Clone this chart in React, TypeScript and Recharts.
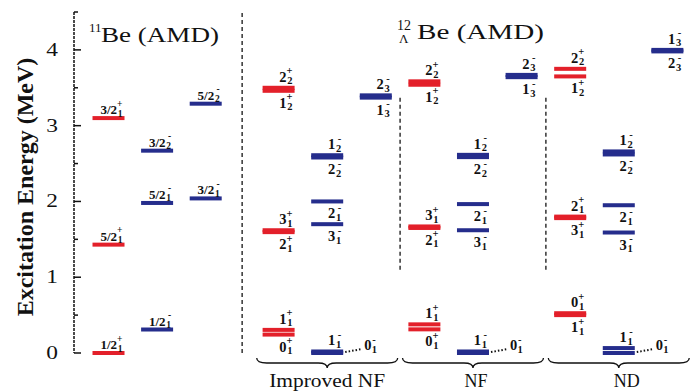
import React from "react";
import { ComposedChart, XAxis, YAxis, Scatter, ReferenceLine, Customized } from "recharts";

const FONT = "'Liberation Serif', 'Times New Roman', Times, serif";
const RED = "#e3202a";
const BLUE = "#252d8c";
const INK = "#111";

// ---- y axis ----
const yTicks = [0, 0.5, 1, 1.5, 2, 2.5, 3, 3.5, 4, 4.5];

// ---- 11Be (AMD) levels ----
const be11Spin = ["1/2", "5/2", "3/2", "1/2", "5/2", "3/2", "3/2", "5/2"];
const be11Index = ["1", "1", "1", "1", "1", "2", "1", "2"];
const be11Parity = ["+", "+", "+", "-", "-", "-", "-", "-"];
const be11Energy = [0.0, 1.43, 3.1, 0.31, 1.98, 2.67, 2.04, 3.29];
const be11Column = [0, 0, 0, 1, 1, 1, 2, 2];

// ---- 12ΛBe (AMD) states: J, index, parity, column ----
const lbJ = ["0", "1", "2", "3", "1", "2", "0", "1", "2", "3", "1", "2", "1", "2"];
const lbIndex = ["1", "1", "1", "1", "2", "2", "1", "1", "1", "1", "2", "2", "3", "3"];
const lbParity = ["+", "+", "+", "+", "+", "+", "-", "-", "-", "-", "-", "-", "-", "-"];
const lbColumn = [0, 0, 0, 0, 0, 0, 1, 1, 1, 1, 1, 1, 2, 2];

const modelNames = ["Improved NF", "NF", "ND"];
const improvedNFEnergy = [0.243, 0.305, 1.595, 1.62, 3.46, 3.5, 0.0, 0.02, 2.0, 1.7, 2.61, 2.58, 3.37, 3.4];
const nfEnergy = [0.312, 0.378, 1.65, 1.67, 3.54, 3.585, 0.0, 0.02, 1.965, 1.62, 2.615, 2.585, 3.64, 3.67];
const ndEnergy = [0.525, 0.5, 1.8, 1.78, 3.65, 3.75, 0.0, 0.065, 1.95, 1.59, 2.66, 2.62, 4.0, 3.98];
const modelEnergies = [improvedNFEnergy, nfEnergy, ndEnergy];

// ---- layout (column positions on the hidden x axis) ----
const BE11_X = [0, 1, 2];
const MODEL_X = [
  [3.5, 4.5, 5.5],
  [6.5, 7.5, 8.5],
  [9.5, 10.5, 11.5],
];
const PAIRS = [[0, 1], [2, 3], [4, 5], [6, 7], [10, 11], [12, 13]];
const DOTTED_STATE = 6; // 0_1^- label drawn to the right with a dotted line
const X_DOMAIN: [number, number] = [-0.71, 11.945];
const BRACE_PAD = 0.45;
const GROUP_LABEL_DX = [0, 3, 8];
const GROUP_LABEL_LEN = [116, 0, 0];
const HALF = 16;

type Pt = { x: number; y: number; base: string; sub: string; sup: string; side: string; kind: string };

function sideFor(i: number, e: number[]): string {
  if (i === DOTTED_STATE) return "right";
  const pair = PAIRS.find((p) => p.includes(i));
  if (!pair) return "below";
  const j = pair[0] === i ? pair[1] : pair[0];
  return e[i] >= e[j] ? "above" : "below";
}

const be11Points: Pt[] = be11Energy.map((y, i) => ({
  x: BE11_X[be11Column[i]],
  y,
  base: be11Spin[i],
  sub: be11Index[i],
  sup: be11Parity[i],
  side: "above",
  kind: "be11",
}));

const lbPoints: Pt[] = modelEnergies.flatMap((e, m) =>
  e.map((y, i) => ({
    x: MODEL_X[m][lbColumn[i]],
    y,
    base: lbJ[i],
    sub: lbIndex[i],
    sup: lbParity[i],
    side: sideFor(i, e),
    kind: "lb",
  }))
);

const LevelShape = (props: any) => {
  const { cx, cy, payload } = props;
  if (cx == null || cy == null) return null;
  const p: Pt = payload;
  const color = p.sup === "+" ? RED : BLUE;
  const left = cx - HALF;
  const right = cx + HALF;
  const small = p.kind === "be11";
  const fs = small ? 13 : 14.5;
  const sfs = small ? 9.5 : 10.5;
  const scriptW = small ? 5.5 : 6;
  let label: React.ReactNode = null;
  if (p.side === "right") {
    const lx = right + 21;
    const by = cy - 3;
    label = (
      <g>
        <line x1={right + 2} y1={cy - 1} x2={right + 19} y2={cy - 4} stroke={INK} strokeWidth={2} strokeDasharray="1.5 2" />
        <text x={lx} y={by} fontSize={fs} fontWeight="bold" fill={INK}>{p.base}</text>
        <text x={lx + 7.5} y={by + 2.5} fontSize={sfs} fontWeight="bold" fill={INK}>{p.sub}</text>
        <text x={lx + 8} y={by - 7.5} fontSize={sfs} fontWeight="bold" fill={INK}>{p.sup}</text>
      </g>
    );
  } else {
    const by = p.side === "above" ? cy - (small ? 4 : 6) : cy + 17;
    const sx = right - 2;
    label = (
      <g>
        <text x={sx - scriptW} y={by} textAnchor="end" fontSize={fs} fontWeight="bold" fill={INK}>{p.base}</text>
        <text x={sx} y={by + 2.5} textAnchor="end" fontSize={sfs} fontWeight="bold" fill={INK}>{p.sub}</text>
        <text x={sx} y={by - 7.5} textAnchor="end" fontSize={sfs} fontWeight="bold" fill={INK}>{p.sup}</text>
      </g>
    );
  }
  return (
    <g fontFamily={FONT}>
      <rect x={left} y={cy - 2} width={HALF * 2} height={4} fill={color} />
      {label}
    </g>
  );
};

const YTick = (props: any) => {
  const { x, y, payload } = props;
  const v = payload.value;
  const major = Math.abs(v - Math.round(v)) < 1e-6;
  return (
    <g>
      <line x1={x} x2={x + (major ? 7 : 4)} y1={y} y2={y} stroke={INK} strokeWidth={1.5} />
      {major && (
        <text
          transform={`translate(${x - 16},${y + 6}) scale(1.3,1)`}
          textAnchor="end"
          fontSize={18}
          fontFamily={FONT}
          fill={INK}
        >
          {v}
        </text>
      )}
    </g>
  );
};

const makeBrace = (m: number) => (props: any) => {
  const { x1, x2, y1 } = props;
  const top = y1 + 5;
  const mid = top + 5;
  const tip = top + 10;
  const xm = (x1 + x2) / 2;
  const d = `M${x1},${top} Q${x1},${mid} ${x1 + 10},${mid} L${xm - 9},${mid} Q${xm},${mid} ${xm},${tip} Q${xm},${mid} ${xm + 9},${mid} L${x2 - 10},${mid} Q${x2},${mid} ${x2},${top}`;
  const len = GROUP_LABEL_LEN[m];
  return (
    <g>
      <path d={d} fill="none" stroke={INK} strokeWidth={1.3} />
      <text
        x={xm + GROUP_LABEL_DX[m]}
        y={y1 + 34}
        textAnchor="middle"
        fontSize={18}
        fontFamily={FONT}
        fill={INK}
        {...(len ? { textLength: len, lengthAdjust: "spacingAndGlyphs" } : {})}
      >
        {modelNames[m]}
      </text>
    </g>
  );
};

const Titles = () => (
  <g fontFamily={FONT} fill={INK}>
    <text x={89} y={31.5} fontSize={13}>11</text>
    <text x={101} y={41.5} fontSize={21} textLength={118} lengthAdjust="spacingAndGlyphs">Be (AMD)</text>
    <text x={397} y={30} fontSize={14}>12</text>
    <text x={399} y={43} fontSize={13}>Λ</text>
    <text x={417} y={38.5} fontSize={21} textLength={127} lengthAdjust="spacingAndGlyphs">Be (AMD)</text>
    <text transform="translate(33,187) rotate(-90)" textAnchor="middle" fontSize={24} fontWeight="bold">
      Excitation Energy (MeV)
    </text>
  </g>
);

export default function App() {
  return (
    <div style={{ position: "absolute", left: 0, top: 0, width: 691, height: 391, background: "#fff" }}>
      <ComposedChart width={691} height={391} margin={{ top: 12, right: 2, bottom: 38, left: 0 }}>
        <XAxis type="number" dataKey="x" domain={X_DOMAIN} hide />
        <YAxis
          type="number"
          domain={[0, 4.5]}
          ticks={yTicks}
          interval={0}
          width={74}
          tickLine={false}
          tickSize={0}
          tickMargin={0}
          tick={<YTick />}
          axisLine={{ stroke: INK, strokeWidth: 1.5, strokeDasharray: "3 1" }}
        />
        <ReferenceLine
          segment={[{ x: 2.75, y: 0 }, { x: 2.75, y: 4.5 }]}
          stroke="#333"
          strokeWidth={1.5}
          strokeDasharray="4 3"
          ifOverflow="visible"
        />
        <ReferenceLine
          segment={[{ x: 6, y: 1.1 }, { x: 6, y: 3.39 }]}
          stroke="#333"
          strokeWidth={1.5}
          strokeDasharray="4 3"
          ifOverflow="visible"
        />
        <ReferenceLine
          segment={[{ x: 9, y: 1.1 }, { x: 9, y: 3.39 }]}
          stroke="#333"
          strokeWidth={1.5}
          strokeDasharray="4 3"
          ifOverflow="visible"
        />
        {MODEL_X.map((cols, m) => (
          <ReferenceLine
            key={modelNames[m]}
            segment={[{ x: cols[0] - BRACE_PAD, y: 0 }, { x: cols[2] + BRACE_PAD, y: 0 }]}
            ifOverflow="visible"
            shape={makeBrace(m)}
          />
        ))}
        <Scatter data={be11Points} dataKey="y" isAnimationActive={false} shape={(p: any) => <LevelShape {...p} />} />
        <Scatter data={lbPoints} dataKey="y" isAnimationActive={false} shape={(p: any) => <LevelShape {...p} />} />
        <Customized component={Titles} />
      </ComposedChart>
    </div>
  );
}
